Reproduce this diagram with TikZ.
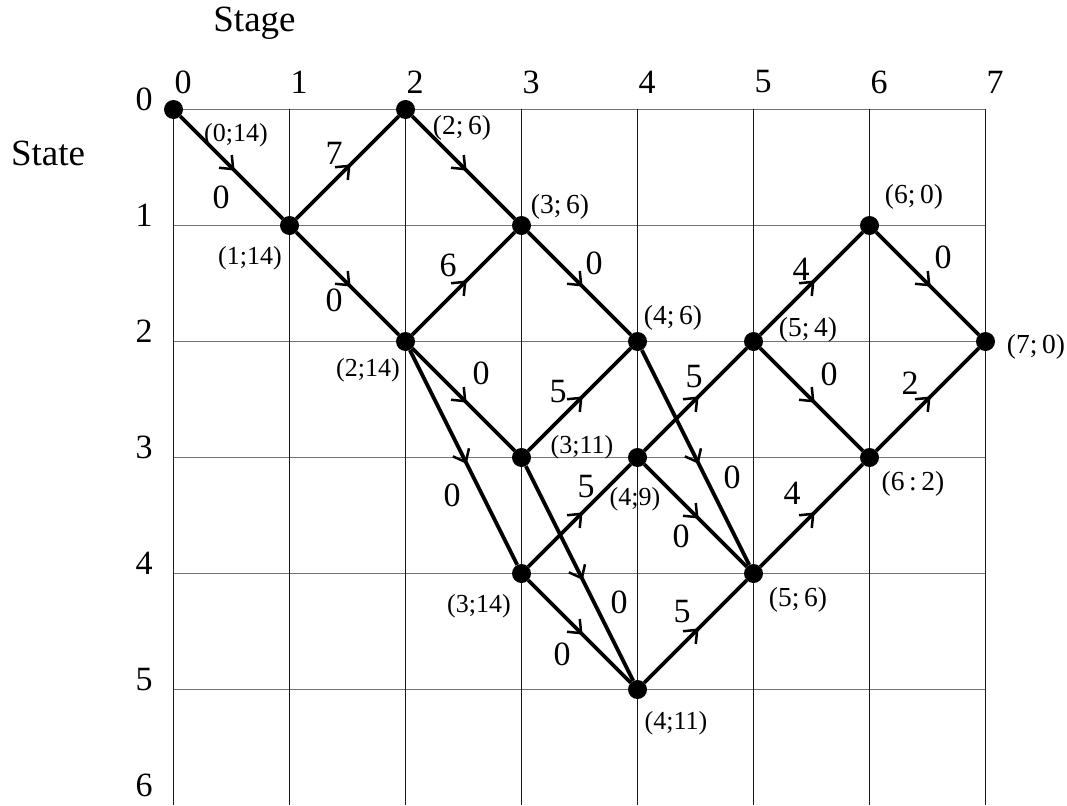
\documentclass[tikz,border=0pt]{standalone}
\usepackage{fontspec}
\setmainfont{Liberation Serif}
\usetikzlibrary{arrows.meta,decorations.markings}
\begin{document}
\begin{tikzpicture}[x=1pt,y=-1pt,
  dot/.style={circle,fill=black,inner sep=0pt,minimum size=19pt},
  axis/.style={font=\fontsize{34}{40}\selectfont,inner sep=0pt},
  ttl/.style={font=\fontsize{37}{44}\selectfont,inner sep=0pt,anchor=base},
  wt/.style={font=\fontsize{34}{40}\selectfont,inner sep=0pt},
  lbl/.style={font=\fontsize{26}{30}\selectfont,inner sep=0pt},
  lblw/.style={font=\fontsize{27.5}{32}\selectfont,inner sep=0pt},
  flow/.style={line width=3.8pt,postaction={decorate},
    decoration={markings,mark=at position 0.53 with {\arrow{Straight Barb[length=11pt,width=18pt,line width=2.5pt]}}}},
  hgrid/.style={line width=1.4pt,black!55},
  vgrid/.style={line width=1pt,black!90}
]
\fill[white] (0,0) rectangle (1067,805);
\useasboundingbox (0,0) rectangle (1067,805);

% grid
\foreach \j in {0,...,5} \draw[hgrid] (173.5,{109.5+116*\j}) -- (985.5,{109.5+116*\j});
\foreach \i in {0,...,7} \draw[vgrid] ({173.5+116*\i},109.5) -- ({173.5+116*\i},805);

% axis labels
\node[ttl] (stage) at (254.5,32) {Stage};
\node[ttl] (state) at (48,165) {State};
\foreach \i in {0,...,7} \node[axis] (sx\i) at ({183+116*\i},82) {\i};
\foreach \j in {0,...,5} \node[axis,anchor=base] (sy\j) at (144,{110.5+116*\j}) {\j};
\node[axis,anchor=base] (sy6) at (144,796) {6};

% states
\node[dot] (A) at (173.5,109.5) {};
\node[dot] (B) at (289.5,225.5) {};
\node[dot] (C) at (405.5,109.5) {};
\node[dot] (D) at (405.5,341.5) {};
\node[dot] (E) at (521.5,225.5) {};
\node[dot] (F) at (521.5,457.5) {};
\node[dot] (G) at (521.5,573.5) {};
\node[dot] (H) at (637.5,341.5) {};
\node[dot] (I) at (637.5,457.5) {};
\node[dot] (J) at (637.5,689.5) {};
\node[dot] (K) at (753.5,341.5) {};
\node[dot] (L) at (753.5,573.5) {};
\node[dot] (M) at (869.5,225.5) {};
\node[dot] (N) at (869.5,457.5) {};
\node[dot] (O) at (985.5,341.5) {};

% edges
\draw[flow] (A) -- (B);
\draw[flow] (B) -- (C);
\draw[flow] (B) -- (D);
\draw[flow] (C) -- (E);
\draw[flow] (D) -- (E);
\draw[flow] (E) -- (H);
\draw[flow] (D) -- (F);
\draw[flow] (D) -- (G);
\draw[flow] (F) -- (H);
\draw[flow] (F) -- (J);
\draw[flow] (G) -- (I);
\draw[flow] (G) -- (J);
\draw[flow] (H) -- (L);
\draw[flow] (I) -- (K);
\draw[flow] (I) -- (L);
\draw[flow] (J) -- (L);
\draw[flow] (K) -- (M);
\draw[flow] (K) -- (N);
\draw[flow] (L) -- (N);
\draw[flow] (M) -- (O);
\draw[flow] (N) -- (O);

% weights
\node[wt] (wAB) at (221,197) {0};
\node[wt] (wBC) at (334,153) {7};
\node[wt] (wBD) at (334,300) {0};
\node[wt] (wDE) at (448,265) {6};
\node[wt] (wEH) at (594,263) {0};
\node[wt] (wDF) at (481,373) {0};
\node[wt] (wFH) at (558,392) {5};
\node[wt] (wDG) at (452,495) {0};
\node[wt] (wGI) at (586,487) {5};
\node[wt] (wFJ) at (619,602) {0};
\node[wt] (wGJ) at (562,654) {0};
\node[wt] (wJL) at (682,612) {5};
\node[wt] (wIL) at (681,536) {0};
\node[wt] (wHL) at (732,477) {0};
\node[wt] (wIK) at (694,377) {5};
\node[wt] (wKM) at (801,269) {4};
\node[wt] (wKN) at (829,374) {0};
\node[wt] (wLN) at (792,493) {4};
\node[wt] (wMO) at (943,257) {0};
\node[wt] (wNO) at (910,383) {2};

% state labels
\node[lbl]  (lA) at (236,135) {(0;14)};
\node[lbl]  (lB) at (250,258) {(1;14)};
\node[lblw] (lC) at (462,128) {(2;\,6)};
\node[lbl]  (lD) at (368,370) {(2;14)};
\node[lblw] (lE) at (560,207) {(3;\,6)};
\node[lbl]  (lF) at (582,447) {(3;11)};
\node[lbl]  (lG) at (479,606) {(3;14)};
\node[lblw] (lH) at (673,318) {(4;\,6)};
\node[lbl]  (lI) at (635,499) {(4;9)};
\node[lbl]  (lJ) at (676,723) {(4;11)};
\node[lblw] (lK) at (808,330) {(5;\,4)};
\node[lblw] (lL) at (798,600) {(5;\,6)};
\node[lblw] (lM) at (914,197) {(6;\,0)};
\node[lblw] (lN) at (913,484) {(6\,:\,2)};
\node[lblw] (lO) at (1036,347) {(7;\,0)};
\end{tikzpicture}
\end{document}
